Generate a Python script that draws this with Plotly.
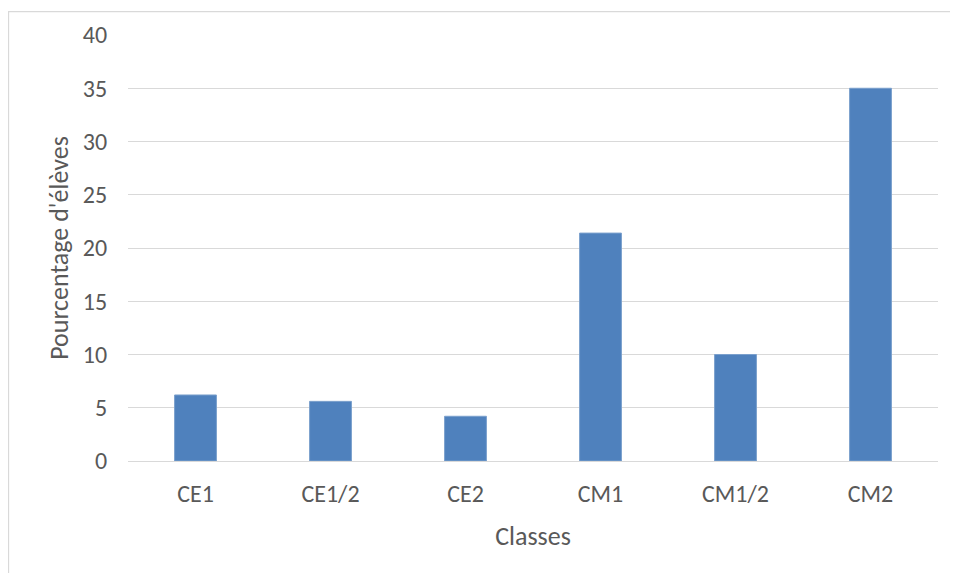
import plotly.graph_objects as go

categories = ["CE1", "CE1/2", "CE2", "CM1", "CM1/2", "CM2"]
values = [6.2, 5.6, 4.2, 21.4, 10.0, 35.0]
y_ticks = [0, 5, 10, 15, 20, 25, 30, 35, 40]

# page has an 8px body margin; compensate so the plot area lands where the reference has it
W, H = 950, 565
L, R, T, B = 120, 20, 24, 112
pw, ph = W - L - R, H - T - B

fig = go.Figure(go.Bar(
    x=categories, y=values,
    marker=dict(color="#4F81BD", line=dict(color="#7BA0CD", width=1)),
    width=0.31,
))

font = "Carlito, Liberation Sans Narrow, Liberation Sans, sans-serif"
fig.update_layout(
    width=W, height=H,
    margin=dict(l=L, r=R, t=T, b=B),
    paper_bgcolor="white", plot_bgcolor="white",
    showlegend=False,
    font=dict(family=font, color="#595959", size=24),
    xaxis=dict(
        title=dict(text="Classes", font=dict(size=26, color="#595959"), standoff=20),
        showgrid=False, showline=False, zeroline=False,
        ticks="outside", ticklen=11, tickcolor="rgba(0,0,0,0)",
        tickfont=dict(size=24),
    ),
    yaxis=dict(
        title=dict(text="Pourcentage d'élèves", font=dict(size=26, color="#595959"), standoff=6),
        range=[0, 40], tickvals=y_ticks,
        showgrid=True, gridcolor="#D9D9D9", gridwidth=1.3,
        zeroline=True, zerolinecolor="#D9D9D9", zerolinewidth=1.3,
        showline=False,
        ticks="outside", ticklen=15, tickcolor="rgba(0,0,0,0)",
        tickfont=dict(size=24),
    ),
    shapes=[dict(
        type="rect", xref="paper", yref="paper",
        x0=(0.5 - L) / pw, x1=2.0,
        y0=-2.0, y1=1 + (T - 0.5) / ph,
        line=dict(color="#D9D9D9", width=1.3), fillcolor="rgba(0,0,0,0)",
        layer="below",
    )],
)

fig.write_html("out.html")
